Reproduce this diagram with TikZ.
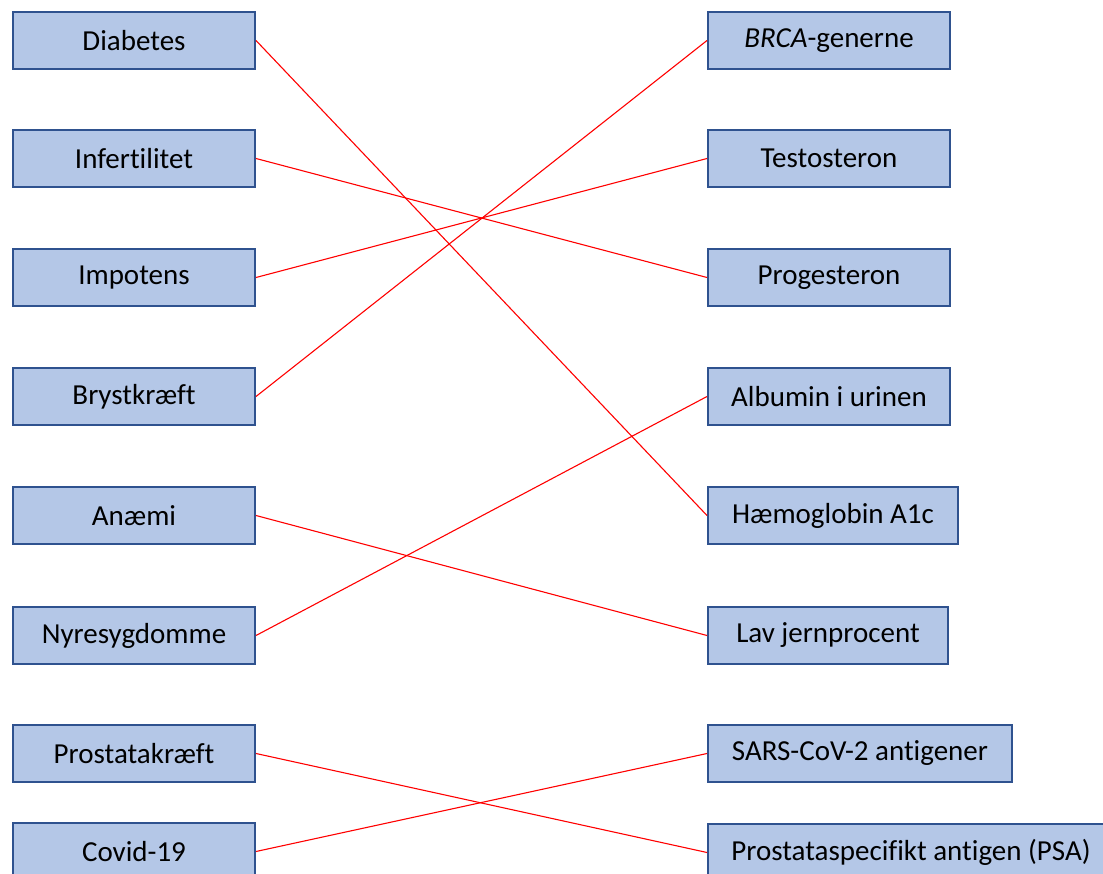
\documentclass[tikz,border=0pt]{standalone}
\usepackage{fontspec}
\setmainfont[RawFeature={-liga;-clig;-dlig;-calt}]{Carlito}
\definecolor{boxfill}{HTML}{B4C7E7}
\definecolor{boxline}{HTML}{2F528F}
\begin{document}
\begin{tikzpicture}[x=1pt,y=-1pt,
  box/.style={draw=boxline, line width=2pt, fill=boxfill, minimum height=57pt, inner sep=0pt, anchor=north west, font=\fontsize{29}{34}\selectfont, text=black},
  link/.style={draw=red, line width=1.1pt}]
\useasboundingbox (0,0) rectangle (1103,874);
\begin{scope}
\clip (0,0) rectangle (1103,874);
% left column
\node[box, minimum width=242pt] (diab) at (12,11) {Diabetes};
\node[box, minimum width=242pt] (infert) at (12,129) {Infertilitet};
\node[box, minimum width=242pt] (impot) at (12,248) {Impotens};
\node[box, minimum width=242pt] (bryst) at (12,367) {Brystkræft};
\node[box, minimum width=242pt] (anaemi) at (12,486) {Anæmi};
\node[box, minimum width=242pt] (nyre) at (12,606) {Nyresygdomme};
\node[box, minimum width=242pt] (prost) at (12,724) {Prostatakræft};
\node[box, minimum width=242pt] (covid) at (12,822) {Covid-19};
% right column
\node[box, minimum width=242pt] (brca) at (707,11) {\textit{BRCA}-generne};
\node[box, minimum width=242pt] (testo) at (707,129) {Testosteron};
\node[box, minimum width=242pt] (proge) at (707,248) {Progesteron};
\node[box, minimum width=242pt] (albu) at (707,367) {Albumin i urinen};
\node[box, minimum width=250pt] (haemo) at (707,486) {Hæmoglobin A1c};
\node[box, minimum width=240pt] (lav) at (707,606) {Lav jernprocent};
\node[box, minimum width=304pt] (sars) at (707,724) {SARS-CoV-2 antigener};
\node[box, minimum width=406pt] (psa) at (707,823) {Prostataspecifikt antigen (PSA)};
% connectors
\draw[link] (diab.east) -- (haemo.west);
\draw[link] (infert.east) -- (proge.west);
\draw[link] (impot.east) -- (testo.west);
\draw[link] (bryst.east) -- (brca.west);
\draw[link] (anaemi.east) -- (lav.west);
\draw[link] (nyre.east) -- (albu.west);
\draw[link] (prost.east) -- (psa.west);
\draw[link] (covid.east) -- (sars.west);
\end{scope}
\end{tikzpicture}
\end{document}
